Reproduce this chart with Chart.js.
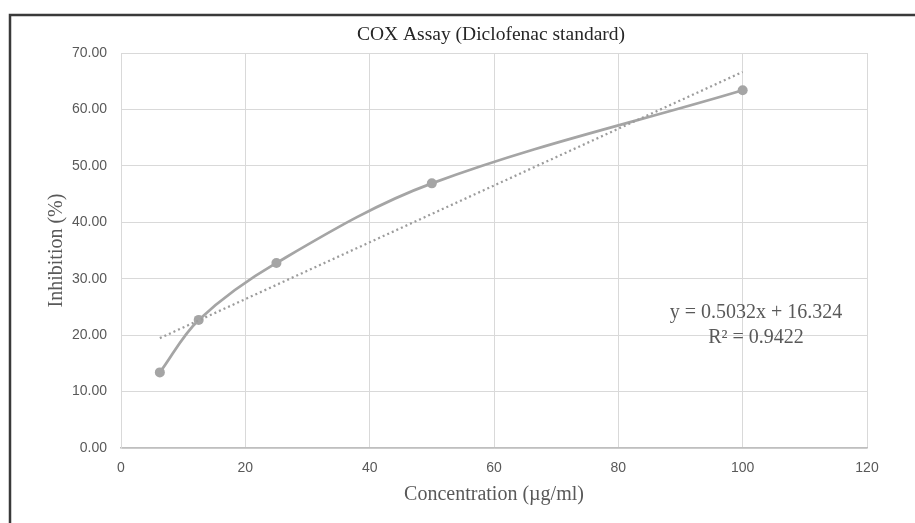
<!DOCTYPE html>
<html>
<head>
<meta charset="utf-8">
<script src="https://cdn.jsdelivr.net/npm/chart.js@4.4.1/dist/chart.umd.min.js"></script>
<style>
  html, body { margin: 0; padding: 0; background: #fff; }
  #wrap { position: relative; width: 915px; height: 523px; }
</style>
</head>
<body>
<div id="wrap"><canvas id="cox" width="915" height="523"></canvas></div>
<script>
// concentration (µg/ml) and % inhibition
var concentration = [6.25, 12.5, 25, 50, 100];
var inhibition = [13.4, 22.7, 32.8, 46.9, 63.4];

// linear trendline as printed on the chart
var slope = 0.5032;
var intercept = 16.324;
var rSquared = '0.9422';

var xTicks = [0, 20, 40, 60, 80, 100, 120];
var yTicks = [0, 10, 20, 30, 40, 50, 60, 70];

var points = concentration.map(function (c, i) { return { x: c, y: inhibition[i] }; });
var xFirst = concentration[0], xLast = concentration[concentration.length - 1];
var trend = [
	{ x: xFirst, y: slope * xFirst + intercept },
	{ x: xLast, y: slope * xLast + intercept }
];

var serif = "'Liberation Serif', 'Times New Roman', serif";
var sans = "'Liberation Sans', Arial, sans-serif";

// white background, the cropped frame, title and trendline label
var decor = {
	id: 'decor',
	beforeDraw: function (chart) {
		var c = chart.ctx;
		c.save();
		c.fillStyle = '#fff';
		c.fillRect(0, 0, chart.width, chart.height);
		c.restore();
	},
	afterDraw: function (chart) {
		var c = chart.ctx;
		c.save();
		c.strokeStyle = '#3a3a3a';
		c.lineWidth = 2.5;
		c.beginPath();
		c.moveTo(10, chart.height);
		c.lineTo(10, 15);
		c.lineTo(chart.width, 15);
		c.stroke();

		c.fillStyle = '#262626';
		c.font = '19.5px ' + serif;
		c.textAlign = 'center';
		c.textBaseline = 'alphabetic';
		c.fillText('COX Assay (Diclofenac standard)', 491, 39.5);

		c.fillStyle = '#595959';
		c.font = '20px ' + serif;
		c.fillText('y = ' + slope + 'x + ' + intercept, 756, 318);
		c.fillText('R\u00b2 = ' + rSquared, 756, 343);
		c.restore();
	}
};

new Chart(document.getElementById('cox').getContext('2d'), {
	type: 'scatter',
	data: {
		datasets: [{
			label: 'Inhibition',
			data: points,
			showLine: true,
			tension: 0.35,
			borderColor: '#a5a5a5',
			backgroundColor: '#a5a5a5',
			borderWidth: 2.75,
			pointRadius: 5,
			pointBorderWidth: 0,
			order: 2
		}, {
			label: 'Linear trend',
			data: trend,
			showLine: true,
			borderColor: '#9c9c9c',
			borderWidth: 2.25,
			borderDash: [2, 3],
			pointRadius: 0,
			order: 1
		}]
	},
	options: {
		responsive: false,
		animation: false,
		layout: { padding: { left: 10, right: 48, top: 53, bottom: 0 } },
		plugins: {
			legend: { display: false },
			tooltip: { enabled: false }
		},
		scales: {
			x: {
				type: 'linear',
				min: xTicks[0],
				max: xTicks[xTicks.length - 1],
				afterFit: function (s) { s.height = 75; },
				afterBuildTicks: function (s) { s.ticks = xTicks.map(function (v) { return { value: v }; }); },
				grid: { color: '#d9d9d9', lineWidth: 1, drawTicks: false },
				border: { color: '#bfbfbf', width: 1.5 },
				ticks: { padding: 12, color: '#595959', font: { family: sans, size: 14 } },
				title: {
					display: true,
					text: 'Concentration (\u00b5g/ml)',
					color: '#595959',
					font: { family: serif, size: 20 },
					padding: { top: 0, bottom: 16 }
				}
			},
			y: {
				type: 'linear',
				min: yTicks[0],
				max: yTicks[yTicks.length - 1],
				afterFit: function (s) { s.width = 111; },
				afterBuildTicks: function (s) { s.ticks = yTicks.map(function (v) { return { value: v }; }); },
				grid: { color: '#d9d9d9', lineWidth: 1, drawTicks: false },
				border: { color: '#d9d9d9', width: 1 },
				ticks: {
					padding: 14,
					color: '#595959',
					font: { family: sans, size: 14 },
					callback: function (v) { return Number(v).toFixed(2); }
				},
				title: {
					display: true,
					text: 'Inhibition (%)',
					color: '#595959',
					font: { family: serif, size: 20 },
					padding: { top: 35, bottom: 0 }
				}
			}
		}
	},
	plugins: [decor]
});
</script>
</body>
</html>
